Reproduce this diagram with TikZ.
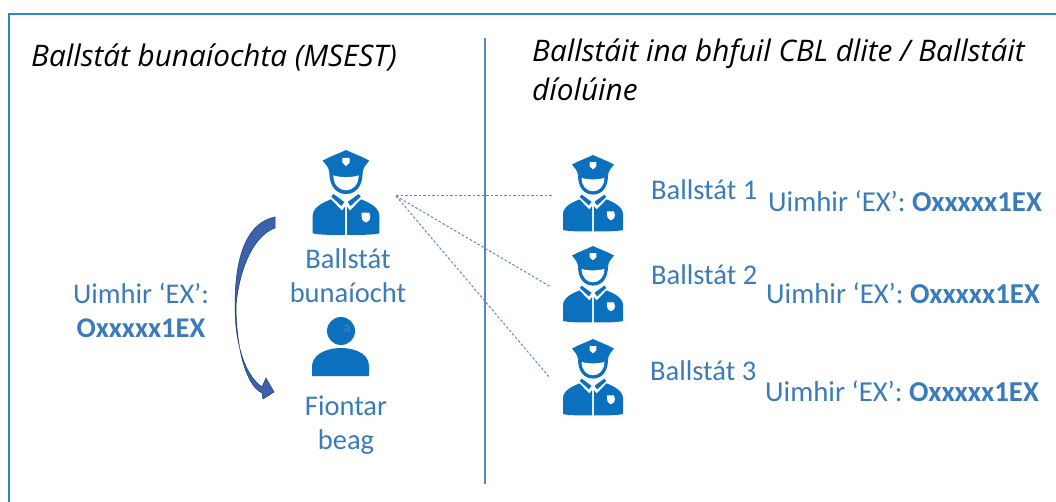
\documentclass[tikz,border=0pt]{standalone}
\usepackage{fontspec}
\setmainfont{Carlito}
\newfontfamily\titlefont{Open Sans}
\definecolor{framec}{HTML}{2F86C9}
\definecolor{iconc}{HTML}{0B70BE}
\definecolor{textc}{HTML}{3A7BBA}
\definecolor{rulec}{HTML}{5B84C4}
\definecolor{dotc}{HTML}{5F88D0}
\definecolor{arrowc}{HTML}{3A62AE}
\definecolor{arrowd}{HTML}{1F3864}
\tikzset{
  title/.style={font=\titlefont\itshape\fontsize{29.7}{35}\selectfont,text=black,anchor=base west,inner sep=0pt,align=left},
  lab/.style={font=\fontsize{28.5}{34}\selectfont,text=textc,inner sep=0pt},
  exn/.style={font=\fontsize{28.8}{34}\selectfont,text=textc,inner sep=0pt,anchor=base west},
  dotline/.style={dotc,line width=1pt,dash pattern=on 2.5pt off 2pt},
  officer/.pic={
    \begin{scope}[x=0.3333pt,y=-0.3333pt]
    % cap
    \fill[iconc] (0,0) .. controls (-25,12) and (-45,18) .. (-70,32) .. controls (-60,45) and (-52,50) .. (-50,68)
      .. controls (-20,76) and (20,76) .. (50,68) .. controls (52,50) and (60,45) .. (70,32) .. controls (45,18) and (25,12) .. (0,0) -- cycle;
    \fill[white] (-11,24) -- (11,24) -- (11,38) -- (0,48) -- (-11,38) -- cycle;
    % head ring
    \fill[iconc] (-50,68) .. controls (-50,110) and (-28,132) .. (0,132) .. controls (28,132) and (50,110) .. (50,68) -- cycle;
    \fill[white] (-38,76) .. controls (-20,83) and (20,83) .. (38,76) .. controls (38,105) and (20,121) .. (0,121) .. controls (-20,121) and (-38,105) .. (-38,76) -- cycle;
    % body
    \fill[iconc] (-100,250) -- (-100,198) .. controls (-100,172) and (-70,158) .. (-45,148) -- (-12,182) -- (-3,170) -- (-3,255) .. controls (-40,255) and (-80,255) .. (-100,250) -- cycle;
    \fill[iconc] (100,250) -- (100,198) .. controls (100,172) and (70,158) .. (45,148) -- (12,182) -- (3,170) -- (3,255) .. controls (40,255) and (80,255) .. (100,250) -- cycle;
    \fill[iconc] (-38,132) -- (-5,156) -- (-14,168) -- (-44,140) -- cycle;
    \fill[iconc] (38,132) -- (5,156) -- (14,168) -- (44,140) -- cycle;
    \fill[white] (47,188) -- (70,188) -- (73,200) .. controls (73,212) and (65,214) .. (60,218) .. controls (54,214) and (47,212) .. (47,200) -- cycle;
    \end{scope}
  }
}
\begin{document}
\begin{tikzpicture}[x=1pt,y=-1pt]
\useasboundingbox (0,0) rectangle (1056,502);
\fill[white] (0,0) rectangle (1056,502);
\coordinate (fTL) at (9,14);
\coordinate (fTR) at (1056,14);
\coordinate (fBL) at (9,502);
\draw[framec,line width=2pt] (fBL) -- (fTL) -- (fTR);
\coordinate (divT) at (485,38);
\coordinate (divB) at (485,484);
\draw[rulec,line width=1.2pt] (divT) -- (divB);

\node[title] (tl) at (31,67) {Ballstát bunaíochta (MSEST)};
\node[title] (tr1) at (532,62) {Ballstáit ina bhfuil CBL dlite / Ballstáit};
\node[title] (tr2) at (532,101) {díolúine};

\pic at (346,150) {officer};
\pic[scale=0.9] at (593,155) {officer};
\pic[scale=0.9] at (593,246) {officer};
\pic[scale=0.9] at (593,339) {officer};
\coordinate (o0) at (396,196);
\coordinate (o1) at (553,196);
\coordinate (o2) at (551,287);
\coordinate (o3) at (550,378);
\draw[dotline] (o0) -- (o1);
\draw[dotline] (o0) -- (o2);
\draw[dotline] (o0) -- (o3);

\node[lab,align=center] (bb) at (348,276) {Ballstát\\bunaíocht};
% person
\fill[iconc] (341,331) circle (14);
\fill[iconc] (312,376) -- (312,365) .. controls (314,352) and (330,348) .. (341,348) .. controls (352,348) and (368,352) .. (369,365) -- (369,376) -- cycle;
\node[font=\fontsize{15}{15}\selectfont,text=rulec!70!iconc,inner sep=0pt] (a) at (347,329) {a};
\node[lab,align=center] (fb) at (346,425) {Fiontar\\beag};
\node[lab,align=center] (ex) at (141,310) {Uimhir ‘EX’:\\\textbf{Oxxxxx1EX}};

% curved arrow
\fill[arrowc,draw=arrowd,line width=0.5pt] (275,217) .. controls (250,222) and (235,250) .. (235,305)
  .. controls (235,345) and (245,375) .. (262,387) -- (266,378) -- (274,392) -- (263,399) -- (262,393)
  .. controls (245,385) and (236,345) .. (236,305)
  .. controls (240,265) and (255,235) .. (275,228) -- cycle;

\node[lab,anchor=base west] (b1) at (651,200) {Ballstát 1};
\node[lab,anchor=base west] (b2) at (651,284) {Ballstát 2};
\node[lab,anchor=base west] (b3) at (650,380) {Ballstát 3};
\node[exn] (e1) at (768,212) {Uimhir ‘EX’: \textbf{Oxxxxx1EX}};
\node[exn] (e2) at (766,303) {Uimhir ‘EX’: \textbf{Oxxxxx1EX}};
\node[exn] (e3) at (765,401) {Uimhir ‘EX’: \textbf{Oxxxxx1EX}};
\end{tikzpicture}
\end{document}
